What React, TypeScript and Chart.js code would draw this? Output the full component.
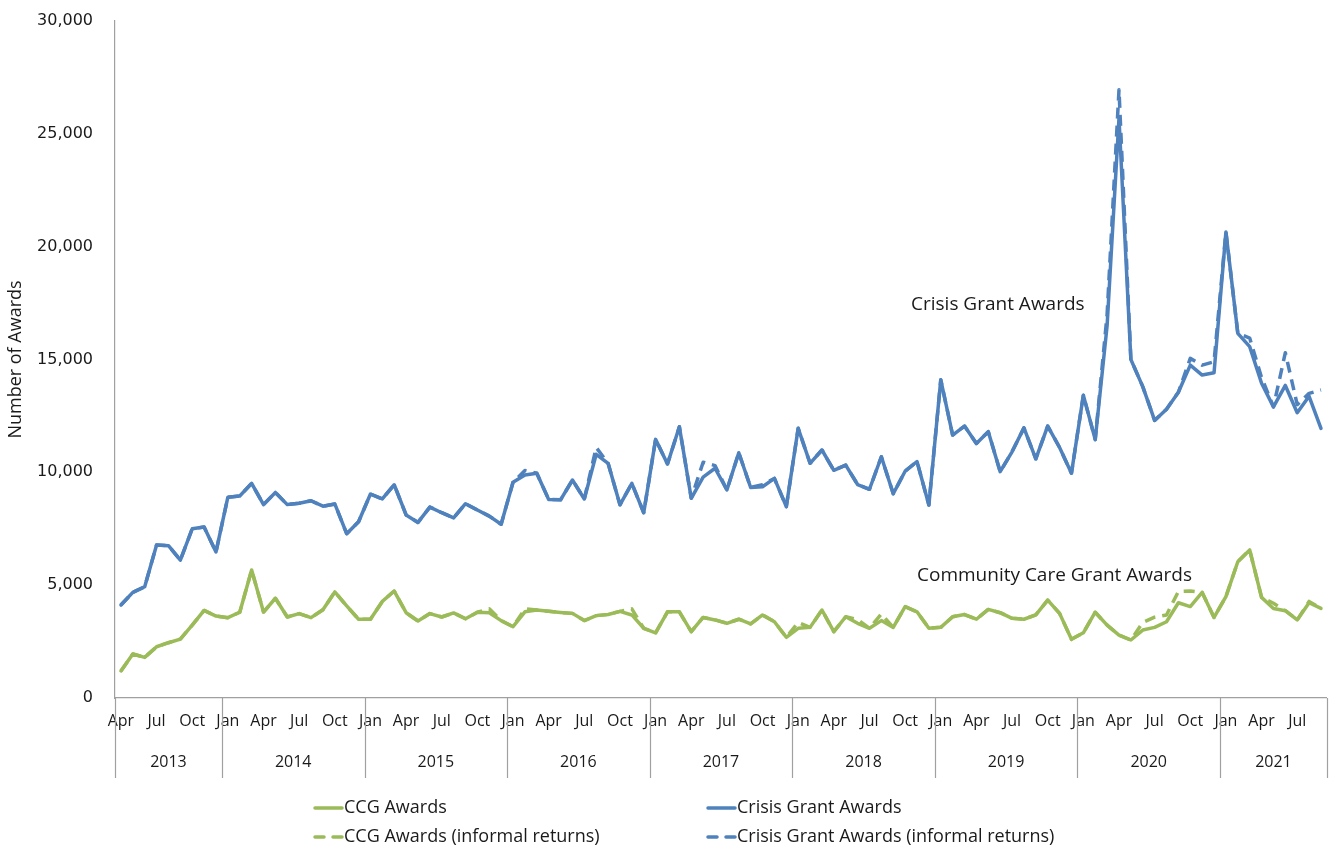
import React, { useEffect, useRef } from "react";
import { Chart, registerables } from "chart.js";

Chart.register(...registerables);

// ---------- data ----------
const YEAR_LABELS = ["2013", "2014", "2015", "2016", "2017", "2018", "2019", "2020", "2021"];
const YEAR_MONTH_COUNTS = [9, 12, 12, 12, 12, 12, 12, 12, 9];
const MONTH_NAMES = ["Jan", "Feb", "Mar", "Apr", "May", "Jun", "Jul", "Aug", "Sep", "Oct", "Nov", "Dec"];
const FIRST_MONTH = 3; // April 2013
const SHOWN_MONTHS = ["Jan", "Apr", "Jul", "Oct"];
const Y_TICKS = [0, 5000, 10000, 15000, 20000, 25000, 30000];

const crisisAwards = [
  4120, 4680, 4930, 6780, 6750, 6110, 7500, 7580, 6470,
  8900, 8950, 9510, 8570, 9110, 8570, 8630, 8740, 8500, 8600, 7280, 7810,
  9040, 8820, 9450, 8110, 7780, 8460, 8210, 7980, 8610, 8330, 8060, 7700,
  9560, 9880, 9960, 8800, 8780, 9660, 8820, 10800, 10400, 8560, 9510, 8210,
  11460, 10370, 12020, 8850, 9790, 10180, 9220, 10870, 9330, 9360, 9730, 8480,
  11950, 10400, 10990, 10090, 10320, 9460, 9250, 10690, 9050, 10050, 10480, 8550,
  14100, 11650, 12050, 11280, 11800, 10030, 10910, 11970, 10600, 12050, 11100, 9960,
  13420, 11450, 16500, 25700, 15000, 13800, 12300, 12800, 13550, 14750, 14310, 14410,
  20650, 16160, 15570, 13950, 12900, 13850, 12640, 13370, 11950,
];

const crisisAwardsInformal = [
  4120, 4680, 4930, 6780, 6750, 6110, 7500, 7580, 6470,
  8900, 8950, 9510, 8570, 9110, 8570, 8630, 8740, 8500, 8600, 7280, 7810,
  9040, 8820, 9450, 8110, 7780, 8460, 8210, 7980, 8610, 8330, 8060, 7700,
  9560, 10080, 9960, 8800, 8780, 9660, 8820, 11100, 10400, 8560, 9510, 8210,
  11460, 10370, 12020, 8850, 10450, 10300, 9220, 10870, 9330, 9450, 9730, 8480,
  11950, 10400, 10990, 10090, 10320, 9460, 9250, 10690, 9050, 10050, 10480, 8550,
  14100, 11650, 12050, 11280, 11800, 10030, 10910, 11970, 10600, 12050, 11100, 9960,
  13420, 11450, 17000, 26950, 15000, 13800, 12300, 12800, 13550, 15050, 14750, 14900,
  20650, 16160, 15950, 14200, 12900, 15300, 13000, 13500, 13650,
];

const ccgAwards = [
  1200, 1950, 1800, 2270, 2450, 2610, 3230, 3880, 3630,
  3560, 3800, 5670, 3810, 4420, 3590, 3740, 3560, 3910, 4700, 4080, 3490,
  3490, 4280, 4740, 3780, 3410, 3740, 3590, 3770, 3510, 3800, 3780, 3430,
  3160, 3820, 3900, 3840, 3790, 3750, 3430, 3650, 3700, 3840, 3680, 3090,
  2890, 3820, 3820, 2940, 3570, 3460, 3310, 3490, 3280, 3680, 3380, 2690,
  3090, 3130, 3900, 2940, 3600, 3310, 3090, 3430, 3130, 4050, 3820, 3090,
  3130, 3600, 3700, 3490, 3930, 3780, 3530, 3490, 3680, 4340, 3750, 2600,
  2890, 3800, 3230, 2790, 2570, 3010, 3130, 3380, 4220, 4050, 4680, 3570,
  4490, 6040, 6560, 4460, 3970, 3870, 3460, 4220, 3970,
];

const ccgAwardsInformal = [
  1200, 1950, 1800, 2270, 2450, 2610, 3230, 3880, 3630,
  3560, 3800, 5670, 3810, 4420, 3590, 3740, 3560, 3910, 4700, 4080, 3490,
  3490, 4280, 4740, 3780, 3410, 3740, 3590, 3770, 3510, 3800, 3950, 3430,
  3160, 3950, 3900, 3840, 3790, 3750, 3430, 3650, 3700, 3840, 3950, 3090,
  2890, 3820, 3820, 2940, 3570, 3460, 3310, 3490, 3280, 3680, 3380, 2690,
  3350, 3130, 3900, 2940, 3600, 3480, 3090, 3720, 3130, 4050, 3820, 3090,
  3130, 3600, 3700, 3490, 3930, 3780, 3530, 3490, 3680, 4340, 3750, 2600,
  2890, 3800, 3230, 2790, 2570, 3350, 3580, 3680, 4720, 4740, 4680, 3570,
  4490, 6040, 6560, 4460, 4200, 3870, 3460, 4280, 3970,
];

const SERIES_NAMES = [
  "CCG Awards",
  "Crisis Grant Awards",
  "CCG Awards (informal returns)",
  "Crisis Grant Awards (informal returns)",
];
const ANNOTATIONS = ["Crisis Grant Awards", "Community Care Grant Awards"];

// ---------- style ----------
const GREEN = "#9BBB59";
const BLUE = "#4F81BD";
const AXIS_COLOR = "#A0A0A0";
const TEXT_COLOR = "#1a1a1a";
const DASH = [11, 7];

const monthLabels: string[] = [];
{
  let m = FIRST_MONTH;
  YEAR_MONTH_COUNTS.forEach((n) => {
    for (let k = 0; k < n; k++) {
      monthLabels.push(MONTH_NAMES[m % 12]);
      m++;
    }
  });
}

const yearRowPlugin = {
  id: "yearRow",
  afterDraw(chart: any) {
    const xs = chart.scales.x;
    const ctx = chart.ctx;
    const top = chart.chartArea.bottom;
    const step = xs.getPixelForValue(1) - xs.getPixelForValue(0);
    const bounds: number[] = [xs.getPixelForValue(0) - step / 2];
    let idx = 0;
    YEAR_MONTH_COUNTS.forEach((n) => {
      idx += n;
      bounds.push(xs.getPixelForValue(idx - 1) + step / 2);
    });
    ctx.save();
    ctx.strokeStyle = AXIS_COLOR;
    ctx.lineWidth = 1.2;
    bounds.forEach((b) => {
      ctx.beginPath();
      ctx.moveTo(Math.round(b) + 0.5, top);
      ctx.lineTo(Math.round(b) + 0.5, top + 80);
      ctx.stroke();
    });
    ctx.fillStyle = TEXT_COLOR;
    ctx.font = "16px 'Open Sans'";
    ctx.textAlign = "center";
    ctx.textBaseline = "middle";
    YEAR_LABELS.forEach((y, i) => {
      ctx.fillText(y, (bounds[i] + bounds[i + 1]) / 2, top + 64);
    });
    ctx.restore();
  },
};

const annotationPlugin = {
  id: "annotations",
  afterDraw(chart: any) {
    const ctx = chart.ctx;
    ctx.save();
    ctx.fillStyle = TEXT_COLOR;
    ctx.font = "19px 'Open Sans'";
    ctx.textAlign = "left";
    ctx.textBaseline = "middle";
    ctx.fillText(ANNOTATIONS[0], 911, 305);
    ctx.fillText(ANNOTATIONS[1], 917, 576);
    ctx.restore();
  },
};

const legendPlugin = {
  id: "customLegend",
  afterDraw(chart: any) {
    const ctx = chart.ctx;
    const cols = [313, 706];
    const rows = [808, 837];
    ctx.save();
    ctx.font = "18px 'Open Sans'";
    ctx.textBaseline = "middle";
    ctx.textAlign = "left";
    chart.data.datasets.forEach((ds: any, i: number) => {
      const x = cols[i % 2];
      const y = rows[Math.floor(i / 2)];
      ctx.strokeStyle = ds.borderColor;
      ctx.lineWidth = 3.5;
      ctx.lineCap = "round";
      ctx.setLineDash(ds.borderDash && ds.borderDash.length ? [9, 9] : []);
      ctx.beginPath();
      ctx.moveTo(x + 2, y);
      ctx.lineTo(x + 29, y);
      ctx.stroke();
      ctx.setLineDash([]);
      ctx.fillStyle = TEXT_COLOR;
      ctx.fillText(ds.label, x + 31, y);
    });
    ctx.restore();
  },
};

export default function App() {
  const ref = useRef<HTMLCanvasElement | null>(null);

  useEffect(() => {
    if (!ref.current) return;
    const common = {
      pointRadius: 0,
      pointHoverRadius: 0,
      borderWidth: 3.5,
      tension: 0,
      borderJoinStyle: "round" as const,
      borderCapStyle: "round" as const,
      fill: false,
    };
    const chart = new Chart(ref.current, {
      type: "line",
      data: {
        labels: monthLabels,
        datasets: [
          { ...common, label: SERIES_NAMES[0], data: ccgAwards, borderColor: GREEN, backgroundColor: GREEN },
          { ...common, label: SERIES_NAMES[1], data: crisisAwards, borderColor: BLUE, backgroundColor: BLUE },
          { ...common, label: SERIES_NAMES[2], data: ccgAwardsInformal, borderColor: GREEN, backgroundColor: GREEN, borderDash: DASH, borderCapStyle: "butt" as const },
          { ...common, label: SERIES_NAMES[3], data: crisisAwardsInformal, borderColor: BLUE, backgroundColor: BLUE, borderDash: DASH, borderCapStyle: "butt" as const },
        ],
      },
      options: {
        responsive: false,
        animation: false,
        layout: { padding: { top: 21, right: 5, left: 0, bottom: 0 } },
        plugins: {
          legend: { display: false },
          tooltip: { enabled: false },
        },
        scales: {
          x: {
            type: "category",
            offset: true,
            grid: { display: false, drawTicks: false },
            border: { display: true, color: AXIS_COLOR, width: 1.2 },
            ticks: {
              autoSkip: false,
              maxRotation: 0,
              minRotation: 0,
              padding: 14,
              color: TEXT_COLOR,
              font: { family: "'Open Sans'", size: 16 },
              callback: (_v: any, i: number) => (SHOWN_MONTHS.includes(monthLabels[i]) ? monthLabels[i] : ""),
            },
            afterFit: (s: any) => {
              s.height = 152;
            },
          },
          y: {
            min: 0,
            max: 30000,
            afterBuildTicks: (s: any) => {
              s.ticks = Y_TICKS.map((v) => ({ value: v }));
            },
            grid: { display: false, drawTicks: true, tickLength: 20 },
            border: { display: true, color: AXIS_COLOR, width: 1.2 },
            ticks: {
              padding: 2,
              color: TEXT_COLOR,
              font: { family: "'DejaVu Sans'", size: 16 },
              callback: (v: any) => Number(v).toLocaleString("en-US"),
            },
            title: {
              display: true,
              text: "Number of Awards",
              color: TEXT_COLOR,
              font: { family: "'Open Sans'", size: 18 },
              padding: { top: 5, bottom: 0 },
            },
            afterFit: (s: any) => {
              s.width = 115;
            },
          },
        },
      },
      plugins: [yearRowPlugin, annotationPlugin, legendPlugin],
    });
    return () => chart.destroy();
  }, []);

  return (
    <div style={{ position: "fixed", left: 0, top: 0, width: 1335, height: 850, background: "#fff" }}>
      <canvas ref={ref} width={1335} height={850} style={{ display: "block" }} />
    </div>
  );
}
